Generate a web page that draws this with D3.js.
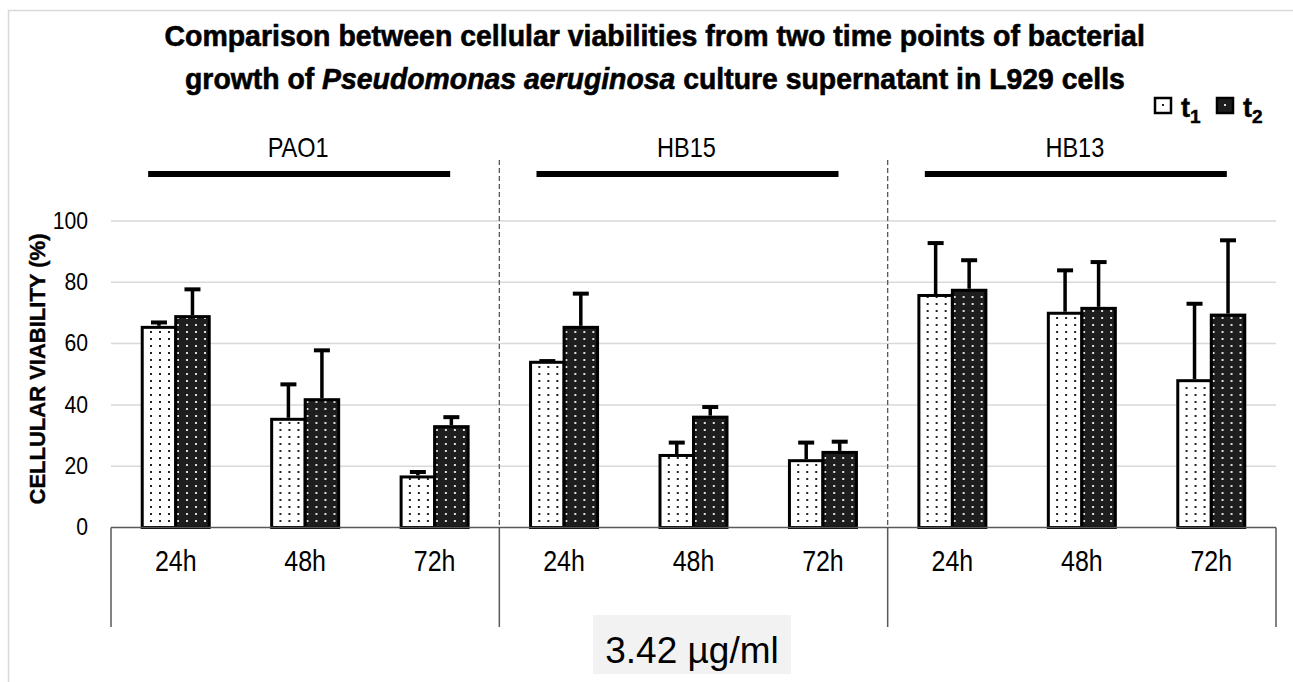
<!DOCTYPE html>
<html>
<head>
<meta charset="utf-8">
<script src="https://cdn.jsdelivr.net/npm/d3@7"></script>
<style>
  body { margin: 0; background: #fff; }
  svg { display: block; }
</style>
</head>
<body>
<svg id="chart"></svg>
<script>
// data
const groups = ["PAO1", "HB15", "HB13"];
const times = ["24h", "48h", "72h"];
const series = ["t1", "t2"];
const t1Values = [65.3, 35.3, 16.5, 53.9, 23.5, 21.8, 75.7, 69.9, 47.9];
const t1Errors = [1.6, 11.4, 1.6, 0.4, 4.2, 5.9, 17.1, 14.0, 25.1];
const t2Values = [68.8, 41.7, 32.9, 65.3, 36.0, 24.5, 77.4, 71.5, 69.3];
const t2Errors = [8.9, 16.1, 3.1, 11.0, 3.3, 3.5, 9.8, 15.1, 24.4];
const yTicks = [0, 20, 40, 60, 80, 100];
const titleLines = [
    [{ t: "Comparison between cellular viabilities from two time points of bacterial" }],
    [{ t: "growth of " }, { t: "Pseudomonas aeruginosa", i: true }, { t: " culture supernatant in L929 cells" }]
];
const concentration = "3.42 µg/ml";

const W = 1293, H = 682;
const sans = "'Liberation Sans', Arial, sans-serif";

const svg = d3.select("#chart").attr("width", W).attr("height", H);

// squeeze plain text horizontally, like a narrow font
function squeeze(sel, k) {
    sel.each(function () {
        const w = this.getComputedTextLength();
        d3.select(this).attr("textLength", w * k).attr("lengthAdjust", "spacingAndGlyphs");
    });
}

// table built from the arrays
const rows = [];
groups.forEach((g, gi) => times.forEach((t, ti) => {
    const k = gi * 3 + ti;
    rows.push({ key: g + "-" + t, group: g, time: t,
        t1: t1Values[k], e1: t1Errors[k], t2: t2Values[k], e2: t2Errors[k] });
}));

const plot = { left: 111, right: 1276, top: 221, bottom: 527.5 };

const x0 = d3.scaleBand().domain(rows.map(d => d.key)).range([plot.left, plot.right]);
const groupX = d3.scaleBand().domain(groups).range([plot.left, plot.right]);
const barW = 33.5;
const x1 = d3.scaleBand().domain(series)
    .range([(x0.bandwidth() - 2 * barW) / 2, (x0.bandwidth() + 2 * barW) / 2]);
const y = d3.scaleLinear().domain([0, 100]).range([plot.bottom, plot.top]);

// patterns
const defs = svg.append("defs");
const p1 = defs.append("pattern").attr("id", "dotsLight")
    .attr("patternUnits", "userSpaceOnUse").attr("width", 9).attr("height", 7);
p1.append("rect").attr("width", 9).attr("height", 7).attr("fill", "#fff");
p1.append("rect").attr("x", 3).attr("y", 2).attr("width", 2).attr("height", 2).attr("fill", "#222");
const p2 = defs.append("pattern").attr("id", "dotsDark")
    .attr("patternUnits", "userSpaceOnUse").attr("width", 9).attr("height", 7);
p2.append("rect").attr("width", 9).attr("height", 7).attr("fill", "#1e1e1e");
p2.append("rect").attr("x", 3).attr("y", 2).attr("width", 2).attr("height", 2).attr("fill", "#ddd");
const fills = { t1: "url(#dotsLight)", t2: "url(#dotsDark)" };

// outer chart border
svg.append("rect").attr("x", 8.5).attr("y", 10.5).attr("width", W).attr("height", H)
    .attr("fill", "none").attr("stroke", "#d9d9d9").attr("stroke-width", 1.5);

// title: bold, squeezed to the width it has in the picture
const titleWidths = [981, 940];
titleLines.forEach((line, li) => {
    const g = svg.append("g");
    const t = g.append("text").attr("x", 0).attr("y", 0)
        .attr("font-family", sans).attr("font-weight", "bold").attr("font-size", 29)
        .attr("stroke", "#000").attr("stroke-width", 0.6).attr("fill", "#000");
    line.forEach(part => t.append("tspan").attr("font-style", part.i ? "italic" : null).text(part.t));
    const w = t.node().getComputedTextLength();
    const k = titleWidths[li] / w;
    g.attr("transform", `translate(${655 - titleWidths[li] / 2},${li === 0 ? 46 : 89}) scale(${k},1)`);
});

// gridlines
svg.append("g").selectAll("line").data(yTicks.filter(v => v > 0)).join("line")
    .attr("x1", plot.left).attr("x2", plot.right)
    .attr("y1", d => y(d)).attr("y2", d => y(d))
    .attr("stroke", "#d9d9d9").attr("stroke-width", 1.5);

// y axis labels
const yAxis = svg.append("g").attr("transform", `translate(${plot.left},0)`)
    .call(d3.axisLeft(y).tickValues(yTicks).tickSize(0).tickPadding(23));
yAxis.select(".domain").remove();
yAxis.selectAll("text").attr("font-family", sans).attr("font-size", 23).attr("fill", "#000")
    .call(squeeze, 0.92);

svg.append("text")
    .attr("transform", `translate(45,${369}) rotate(-90)`)
    .attr("text-anchor", "middle")
    .attr("font-family", sans).attr("font-weight", "bold")
    .attr("font-size", 22).attr("fill", "#000").attr("stroke", "#000").attr("stroke-width", 0.4)
    .text("CELLULAR VIABILITY (%)");

// dashed separators between groups
svg.append("g").selectAll("line").data(groups.slice(1)).join("line")
    .attr("x1", d => groupX(d)).attr("x2", d => groupX(d))
    .attr("y1", 160).attr("y2", plot.bottom)
    .attr("stroke", "#595959").attr("stroke-width", 1.3).attr("stroke-dasharray", "5,3");

// group labels with thick bars
const gl = svg.append("g").selectAll("g").data(groups).join("g")
    .attr("transform", d => `translate(${groupX(d) + groupX.bandwidth() / 2},0)`);
gl.append("text").attr("x", -7).attr("y", 157).attr("text-anchor", "middle")
    .attr("font-family", sans).attr("font-size", 28).attr("fill", "#000").text(d => d)
    .call(squeeze, 0.84);
gl.append("line").attr("x1", -157).attr("x2", 145).attr("y1", 174).attr("y2", 174)
    .attr("stroke", "#000").attr("stroke-width", 6);

// bars
const cat = svg.append("g").selectAll("g").data(rows).join("g")
    .attr("transform", d => `translate(${x0(d.key)},0)`);
cat.selectAll("rect").data(d => series.map(s => ({ s, v: d[s] }))).join("rect")
    .attr("x", d => x1(d.s)).attr("width", x1.bandwidth())
    .attr("y", d => y(d.v)).attr("height", d => y(0) - y(d.v))
    .attr("fill", d => fills[d.s]).attr("stroke", "#000").attr("stroke-width", 3);

// error bars (upper only)
const eb = cat.selectAll("g.err").data(d => [
    { s: "t1", v: d.t1, e: d.e1 }, { s: "t2", v: d.t2, e: d.e2 }]).join("g").attr("class", "err");
eb.append("line")
    .attr("x1", d => x1(d.s) + x1.bandwidth() / 2).attr("x2", d => x1(d.s) + x1.bandwidth() / 2)
    .attr("y1", d => y(d.v) - 1.5).attr("y2", d => y(d.v + d.e))
    .attr("stroke", "#000").attr("stroke-width", 3.5);
eb.append("line")
    .attr("x1", d => x1(d.s) + x1.bandwidth() / 2 - 8).attr("x2", d => x1(d.s) + x1.bandwidth() / 2 + 8)
    .attr("y1", d => y(d.v + d.e)).attr("y2", d => y(d.v + d.e))
    .attr("stroke", "#000").attr("stroke-width", 4);

// category axis
svg.append("line").attr("x1", plot.left).attr("x2", plot.right)
    .attr("y1", plot.bottom).attr("y2", plot.bottom)
    .attr("stroke", "#595959").attr("stroke-width", 1.5);
svg.append("g").selectAll("text").data(rows).join("text")
    .attr("x", d => x0(d.key) + x0.bandwidth() / 2).attr("y", 571)
    .attr("text-anchor", "middle").attr("font-family", sans).attr("font-size", 29)
    .attr("fill", "#000").text(d => d.time)
    .call(squeeze, 0.86);
// group brackets below the axis
svg.append("g").selectAll("line").data(groups.concat(["end"])).join("line")
    .attr("x1", d => d === "end" ? plot.right : groupX(d))
    .attr("x2", d => d === "end" ? plot.right : groupX(d))
    .attr("y1", plot.bottom).attr("y2", 627)
    .attr("stroke", "#595959").attr("stroke-width", 1.5);

// concentration box
svg.append("rect").attr("x", 593).attr("y", 615).attr("width", 198).attr("height", 59).attr("fill", "#f2f2f2");
svg.append("text").attr("x", 692).attr("y", 663).attr("text-anchor", "middle")
    .attr("font-family", sans).attr("font-size", 37)
    .attr("fill", "#000").text(concentration);

// legend
const leg = svg.append("g").selectAll("g").data(series).join("g")
    .attr("transform", (d, i) => `translate(${1154 + i * 62},97)`);
leg.append("rect").attr("x", 1).attr("y", 1).attr("width", 16).attr("height", 15)
    .attr("fill", d => d === "t1" ? "#fff" : "#1e1e1e").attr("stroke", "#000").attr("stroke-width", 2.5);
leg.append("rect").attr("x", 8).attr("y", 7).attr("width", 2).attr("height", 2)
    .attr("fill", d => d === "t1" ? "#222" : "#ddd");
const lt = leg.append("text").attr("x", 27).attr("y", 20)
    .attr("font-family", sans).attr("font-weight", "bold")
    .attr("font-size", 27).attr("fill", "#000").attr("stroke", "#000").attr("stroke-width", 0.5);
lt.append("tspan").text("t");
lt.append("tspan").attr("dy", 6).attr("font-size", 19).text(d => d.slice(1));
</script>
</body>
</html>
